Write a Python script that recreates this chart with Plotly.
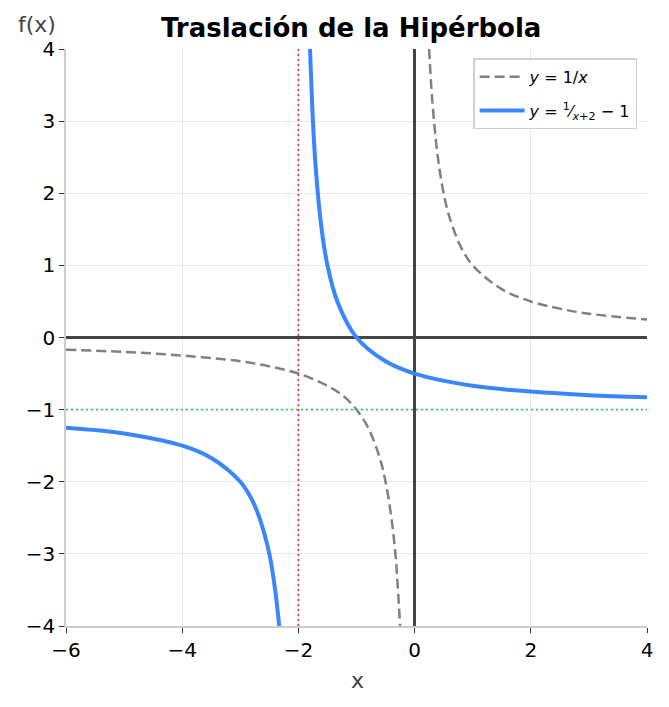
import plotly.graph_objects as go

# y = 1/x
base_left_x = [-6, -5, -4, -3, -2.5, -2, -1.5, -1.2, -1, -0.8, -0.6, -0.5, -0.4, -0.33, -0.29, -0.25]
base_left_y = [-0.17, -0.2, -0.25, -0.33, -0.4, -0.5, -0.67, -0.83, -1, -1.25, -1.67, -2, -2.5, -3, -3.45, -4]
base_right_x = [0.25, 0.3, 0.4, 0.5, 0.6, 0.8, 1, 1.5, 2, 2.5, 3, 4]
base_right_y = [4, 3.33, 2.5, 2, 1.67, 1.25, 1, 0.67, 0.5, 0.4, 0.33, 0.25]

# y = 1/(x+2) - 1
shift_left_x = [-6, -5, -4, -3.5, -3, -2.8, -2.67, -2.5, -2.4, -2.33]
shift_left_y = [-1.25, -1.33, -1.5, -1.67, -2, -2.25, -2.5, -3, -3.5, -4]
shift_right_x = [-1.8, -1.75, -1.7, -1.6, -1.5, -1.33, -1, -0.5, 0, 1, 2, 3, 4]
shift_right_y = [4, 3, 2.33, 1.5, 1, 0.5, 0, -0.33, -0.5, -0.67, -0.75, -0.8, -0.83]

asym_x = -2
asym_y = -1

fig = go.Figure()

fig.add_trace(go.Scatter(x=base_left_x, y=base_left_y, mode="lines", line_shape="spline",
                         line=dict(color="#808080", width=2.5, dash="10px,5px"),
                         name="<i>y</i> = 1/<i>x</i>", legendgroup="a"))
fig.add_trace(go.Scatter(x=base_right_x, y=base_right_y, mode="lines", line_shape="spline",
                         line=dict(color="#808080", width=2.5, dash="10px,5px"),
                         showlegend=False, legendgroup="a"))
fig.add_trace(go.Scatter(x=shift_left_x, y=shift_left_y, mode="lines", line_shape="spline",
                         line=dict(color="#3a86ff", width=4),
                         name="<i>y</i> = <sup>1</sup>⁄<sub><i>x</i>+2</sub> − 1", legendgroup="b"))
fig.add_trace(go.Scatter(x=shift_right_x, y=shift_right_y, mode="lines", line_shape="spline",
                         line=dict(color="#3a86ff", width=4),
                         showlegend=False, legendgroup="b"))

# asymptotes
fig.add_vline(x=asym_x, line=dict(color="#e63946", width=1.8, dash="2px,3px"))
fig.add_hline(y=asym_y, line=dict(color="#2ecc71", width=1.8, dash="2px,3px"))

fig.update_layout(
    width=669, height=707,
    margin=dict(l=58, r=30, t=41, b=89),
    paper_bgcolor="white", plot_bgcolor="white",
    font=dict(family="DejaVu Sans", size=20, color="black"),
    title=dict(text="<b>Traslación de la Hipérbola</b>", x=0.513, xanchor="center",
               y=0.972, yanchor="middle", font=dict(size=26)),
    legend=dict(x=0.983, y=0.984, xanchor="right", yanchor="top", itemwidth=45,
                bordercolor="#d0d0d0", borderwidth=1.5, bgcolor="rgba(255,255,255,0.9)",
                font=dict(size=16)),
    annotations=[
        dict(text="f(x)", xref="paper", yref="paper", x=-0.086, y=1.043,
             xanchor="left", yanchor="middle", showarrow=False,
             font=dict(size=22, color="#444444")),
        dict(text="x", xref="paper", yref="paper", x=0.501, y=-0.094,
             xanchor="center", yanchor="middle", showarrow=False,
             font=dict(size=22, color="#444444")),
    ],
)
fig.update_xaxes(range=[-6, 4], dtick=2, showgrid=True, gridcolor="#e8e8e8",
                 zeroline=True, zerolinecolor="#444444", zerolinewidth=2.5,
                 showline=True, linecolor="#cccccc", linewidth=1.5,
                 ticks="outside", ticklen=5, tickcolor="#333333", automargin=False)
fig.update_yaxes(range=[-4, 4], dtick=1, showgrid=True, gridcolor="#e8e8e8",
                 zeroline=True, zerolinecolor="#444444", zerolinewidth=2.5,
                 showline=True, linecolor="#cccccc", linewidth=1.5,
                 ticks="outside", ticklen=5, tickcolor="#333333", automargin=False)

fig.write_html("out.html")
